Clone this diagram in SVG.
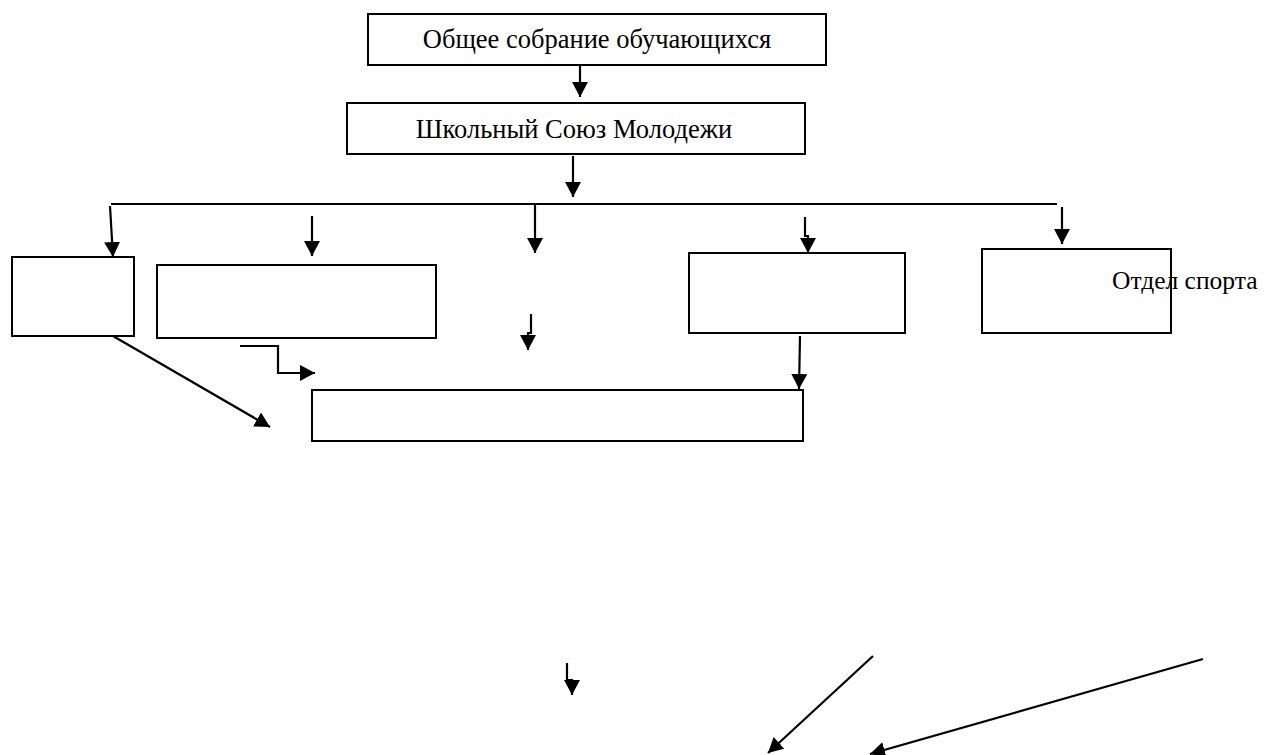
<svg xmlns="http://www.w3.org/2000/svg" width="1265" height="755" viewBox="0 0 1265 755">
<style>
.box{fill:none;stroke:#000;stroke-width:2}
.ln{fill:none;stroke:#000;stroke-width:2.2}
.arr{marker-end:url(#ah)}
.t{font-family:"Liberation Serif","Times New Roman",serif;font-size:26.5px;fill:#000}
</style>
<defs>
<marker id="ah" markerUnits="userSpaceOnUse" markerWidth="16" markerHeight="16" viewBox="0 0 16 16" refX="15" refY="8" orient="auto">
<path d="M0,0 L15,8 L0,16 Z" fill="#000"/>
</marker>
</defs>
<rect width="1265" height="755" fill="#fff"/>
<g id="node-general">
<rect class="box" x="368" y="14" width="458" height="51"/>
<text class="t" x="597" y="48" text-anchor="middle">Общее собрание обучающихся</text>
</g>
<g id="node-union">
<rect class="box" x="347" y="103" width="458" height="51"/>
<text class="t" x="574" y="138" text-anchor="middle">Школьный Союз Молодежи</text>
</g>
<g id="node-a"><rect class="box" x="12" y="257" width="122" height="79"/></g>
<g id="node-b"><rect class="box" x="157" y="265" width="279" height="73"/></g>
<g id="node-d"><rect class="box" x="689" y="253" width="216" height="80"/></g>
<g id="node-sport">
<rect class="box" x="982" y="249" width="189" height="84"/>
<text class="t" x="1112" y="289" style="font-size:25.5px">Отдел спорта</text>
</g>
<g id="node-c"><rect class="box" x="312" y="390" width="491" height="51"/></g>
<g id="connectors">
<line class="ln arr" x1="580" y1="65" x2="580" y2="97"/>
<line class="ln arr" x1="573" y1="156" x2="573" y2="197"/>
<line class="ln" x1="111" y1="204" x2="1057" y2="204"/>
<line class="ln arr" x1="110" y1="206" x2="113" y2="257"/>
<line class="ln arr" x1="312" y1="216" x2="312" y2="256"/>
<line class="ln arr" x1="535" y1="205" x2="535" y2="253"/>
<polyline class="ln arr" points="805,217 805,236 808,236 808,253"/>
<line class="ln arr" x1="1062" y1="207" x2="1062" y2="244"/>
<polyline class="ln arr" points="531,314 531,333 528,333 528,350"/>
<polyline class="ln arr" points="240,346 278,346 278,373 315,373"/>
<line class="ln arr" x1="113" y1="336" x2="270" y2="427"/>
<line class="ln arr" x1="800" y1="336" x2="799" y2="389"/>
<polyline class="ln arr" points="567,663 567,680 572,680 572,695"/>
<line class="ln arr" x1="873" y1="656" x2="768" y2="753"/>
<line class="ln arr" x1="1203" y1="659" x2="870" y2="754"/>
</g>
</svg>
